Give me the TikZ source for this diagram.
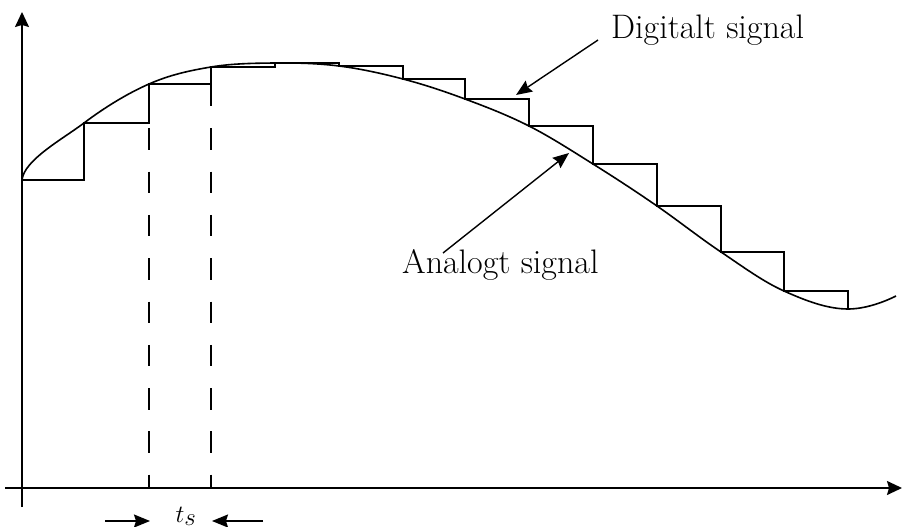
\documentclass[tikz,border=0pt]{standalone}
\usetikzlibrary{arrows.meta}
\begin{document}
\begin{tikzpicture}[x=1pt,y=-1pt,
  axis/.style={line width=1.6pt,-{Stealth[length=15pt,width=14pt,inset=2pt]}},
  sig/.style={line width=1.6pt},
  stair/.style={line width=1.4pt},
  samp/.style={line width=1.4pt,dash pattern=on 21.5pt off 21.8pt},
  callout/.style={line width=1.4pt,-{Stealth[length=16pt,width=13pt,inset=2pt]}},
  lbl/.style={font=\fontsize{34}{40}\selectfont,inner sep=0pt}]
\useasboundingbox (0,0) rectangle (906,527);
% axes
\coordinate (xs) at (5,488);
\coordinate (xe) at (902,488);
\coordinate (ys) at (22,507);
\coordinate (ye) at (22,12);
\draw[axis] (xs) -- (xe);
\draw[axis] (ys) -- (ye);
% analog signal
\draw[sig] (22,180) .. controls (24,160) and (62.8,139) .. (84,123)
  .. controls (105.2,107) and (127.8,93.3) .. (149,84)
  .. controls (170.2,74.7) and (190,70.5) .. (211,67)
  .. controls (232,63.5) and (253.7,63.2) .. (275,63)
  .. controls (296.3,62.8) and (317.7,63.3) .. (339,66)
  .. controls (360.3,68.7) and (382,73.5) .. (403,79)
  .. controls (424,84.5) and (444,91.2) .. (465,99)
  .. controls (486,106.8) and (507.7,115.2) .. (529,126)
  .. controls (550.3,136.8) and (571.7,150.7) .. (593,164)
  .. controls (614.3,177.3) and (635.7,191.3) .. (657,206)
  .. controls (678.3,220.7) and (699.8,237.8) .. (721,252)
  .. controls (742.2,266.2) and (762.8,281.5) .. (784,291)
  .. controls (805.2,300.5) and (827,309) .. (848,309)
  .. controls (864,309) and (882,303) .. (896,296);
% digital signal
\draw[stair] (22,180) -- (84,180) -- (84,123) -- (149,123) -- (149,84) -- (211,84) -- (211,67) -- (275,67) -- (275,63) -- (339,63) -- (339,66) -- (403,66) -- (403,79) -- (465,79) -- (465,99) -- (529,99) -- (529,126) -- (593,126) -- (593,164) -- (657,164) -- (657,206) -- (721,206) -- (721,252) -- (784,252) -- (784,291) -- (848,291) -- (848,309);
% sample lines
\coordinate (s1t) at (149,85);
\coordinate (s1b) at (149,488);
\coordinate (s2t) at (211,85);
\coordinate (s2b) at (211,488);
\draw[samp] (s1t) -- (s1b);
\draw[samp] (s2t) -- (s2b);
% labels
\node[lbl,anchor=base west] (dig) at (611,39) {Digitalt signal};
\node[lbl,anchor=base west] (ana) at (402,273) {Analogt signal};
\coordinate (dsa) at (598,40);
\coordinate (dtip) at (516,95);
\coordinate (asa) at (443,253);
\coordinate (atip) at (569,153);
\draw[callout] (dsa) -- (dtip);
\draw[callout] (asa) -- (atip);
% ts
\node[lbl,anchor=base] (ts) at (186,522) {$t_s$};
\coordinate (l1) at (105,521);
\coordinate (l2) at (150,521);
\coordinate (r1) at (263,521);
\coordinate (r2) at (212,521);
\draw[callout] (l1) -- (l2);
\draw[callout] (r1) -- (r2);
\end{tikzpicture}
\end{document}
